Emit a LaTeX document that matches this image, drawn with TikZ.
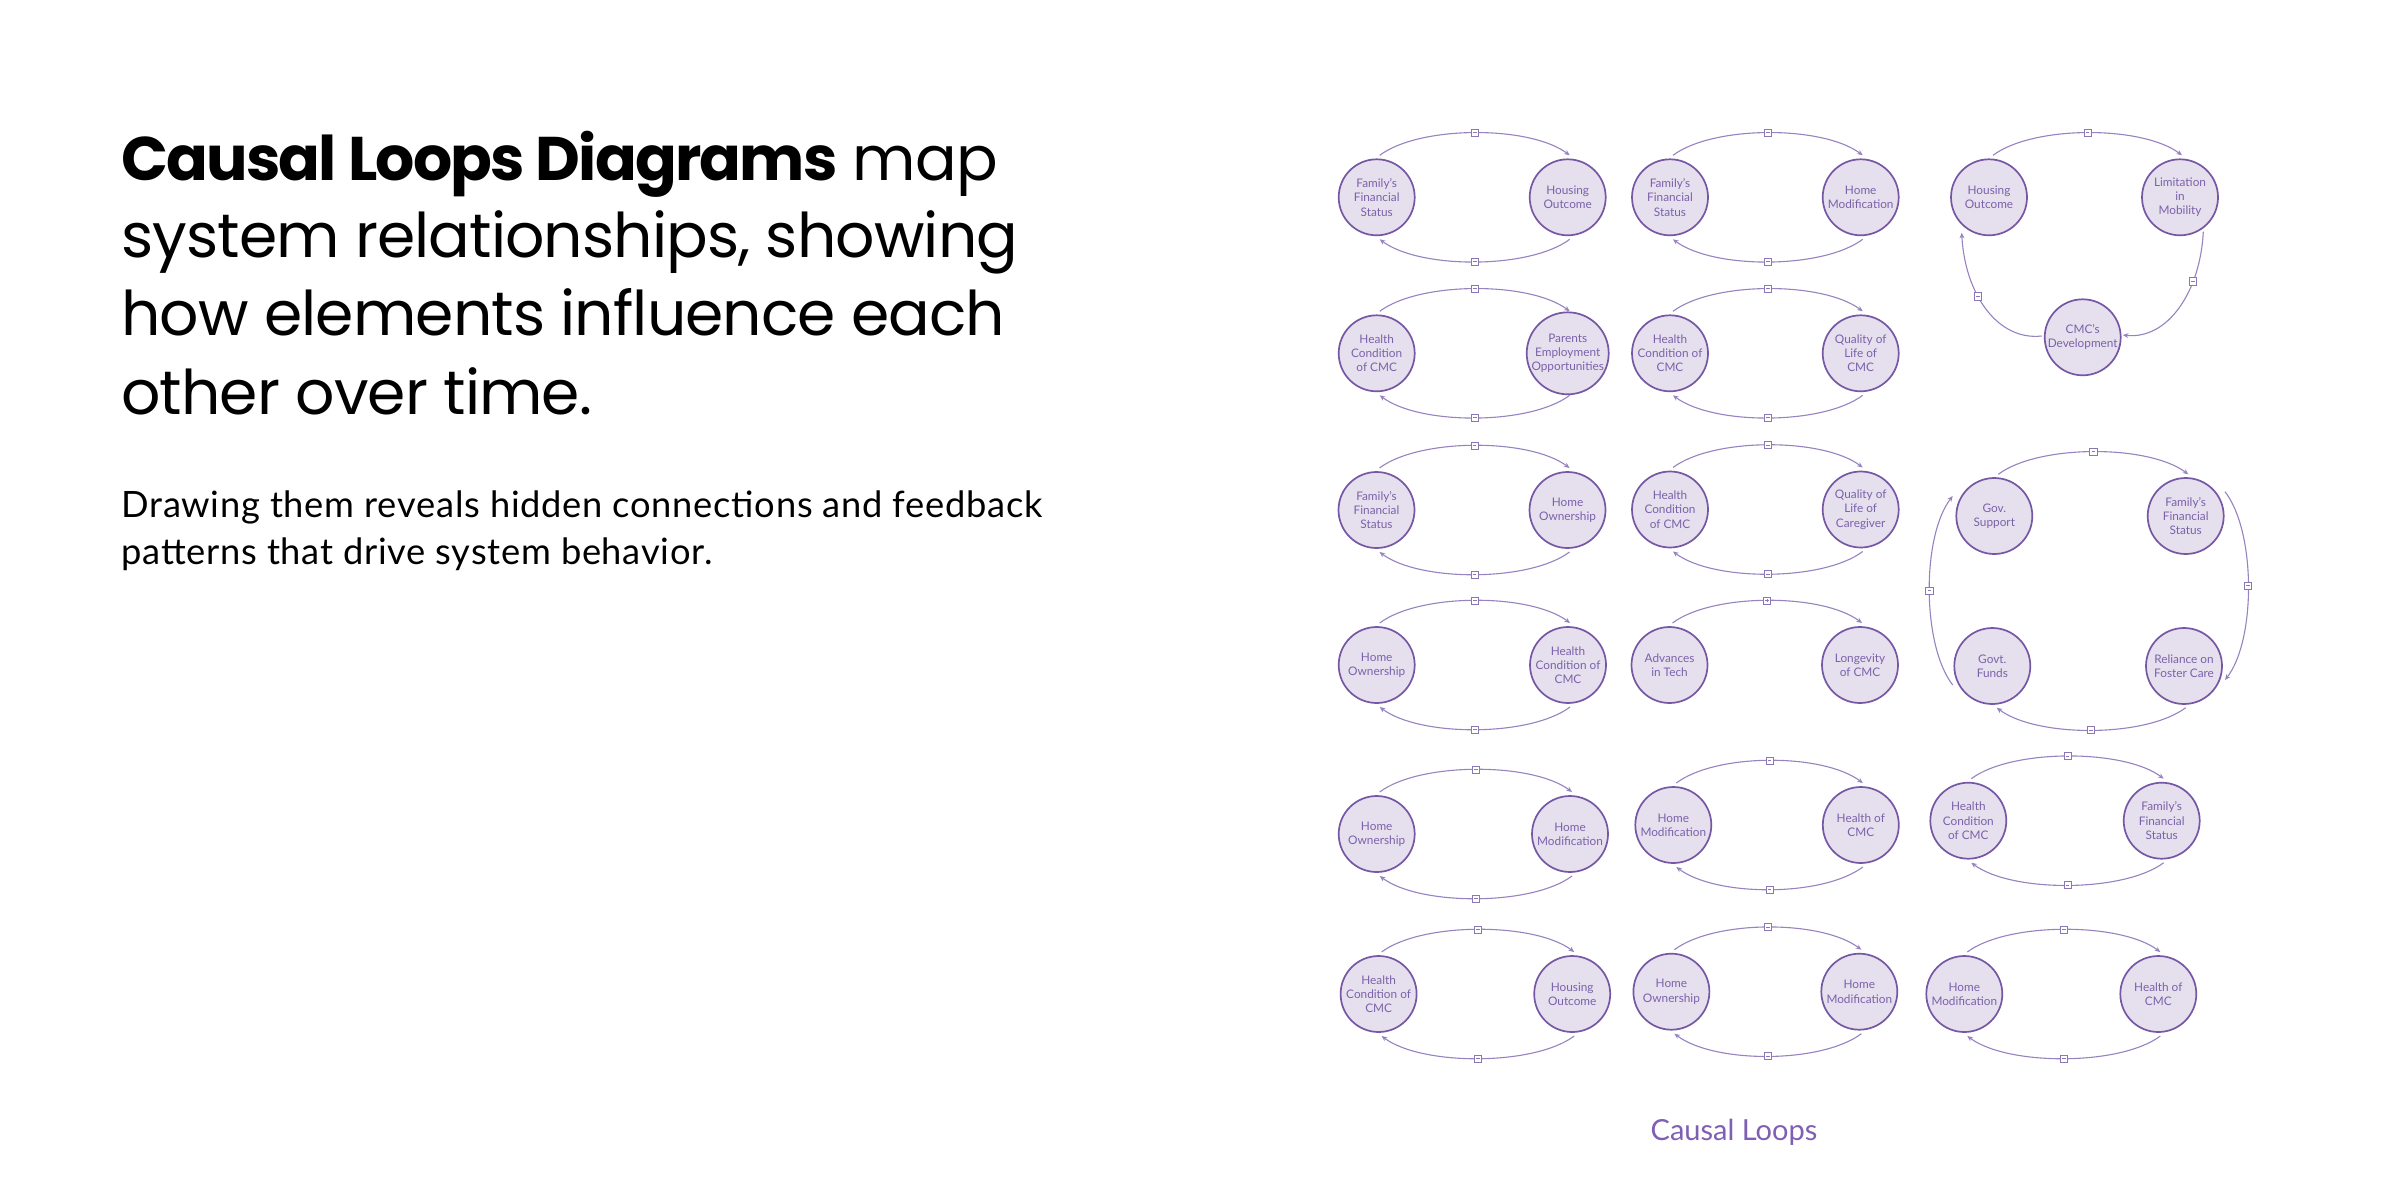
\documentclass[tikz,border=0pt]{standalone}
\usepackage{fontspec}
\setmainfont{Lato}
\newfontfamily\titlefont[LetterSpace=-1.5,BoldFeatures={LetterSpace=-3}]{Poppins}
\newfontfamily\bodyfont[LetterSpace=2]{Lato}
\usetikzlibrary{arrows.meta,calc}
\definecolor{cfill}{HTML}{E6DFEE}
\definecolor{cborder}{HTML}{7557A3}
\definecolor{ctext}{HTML}{7A62AA}
\definecolor{clink}{HTML}{9783C0}
\definecolor{cbox}{HTML}{8B76B8}
\definecolor{ccap}{HTML}{7F5FB3}
\newcommand{\minussign}{\makebox[0pt]{\rule{1.8pt}{0.4pt}}}
\newcommand{\plussign}{\makebox[0pt]{\rule{1.8pt}{0.4pt}}\makebox[0pt]{\rule[-0.7pt]{0.4pt}{1.8pt}}}
\tikzset{
  cnode/.style={circle, draw=cborder, fill=cfill, line width=0.85pt, minimum size=38pt,
    inner sep=0pt, align=center, text=ctext, font=\fontsize{5.9}{7.15}\selectfont},
  link/.style={draw=clink, line width=0.55pt, -{Stealth[length=2.8pt,width=2.4pt]}},
  sbox/.style={rectangle, draw=cbox, fill=white, line width=0.4pt, minimum size=3.6pt, inner sep=0pt,
    text=cbox},
  titletext/.style={anchor=base west, inner sep=0pt, font=\titlefont\fontsize{30.8}{36}\selectfont},
  bodytext/.style={anchor=base west, inner sep=0pt, font=\bodyfont\fontsize{18.15}{21}\selectfont},
}
% #1 prefix, #2 x left, #3 x right, #4 y, #5 left text, #6 right text
\newcommand{\twoloop}[6]{%
  \node[cnode] (#1a) at (#2,#4) {#5};
  \node[cnode] (#1b) at (#3,#4) {#6};
  \draw[link] ($(#1a.center)+(3,-42)$) .. controls +(40,-30) and +(-40,-30) .. node[sbox]{\minussign} ($(#1b.center)+(2,-42)$);
  \draw[link] ($(#1b.center)+(2,42)$) .. controls +(-40,30) and +(40,30) .. node[sbox]{\minussign} ($(#1a.center)+(3,42)$);
}
\begin{document}
\begin{tikzpicture}[x=0.5pt,y=-0.5pt]
\useasboundingbox (0,0) rectangle (2400,1200);
\fill[white] (0,0) rectangle (2400,1200);

% left text
\node[titletext] (t1) at (121,180) {\bfseries Causal Loops Diagrams\mdseries{} map};
\node[titletext] (t2) at (121,257.7) {system relationships, showing};
\node[titletext] (t3) at (121,335) {how elements influence each};
\node[titletext] (t4) at (121,414) {other over time.};
\node[bodytext] (b1) at (121,517.3) {Drawing them reveals hidden connections and feedback};
\node[bodytext] (b2) at (121,564) {patterns that drive system behavior.};

% row 1
\twoloop{ra}{1376.7}{1567.7}{197.3}{Family’s\\Financial\\Status}{Housing\\Outcome}
\twoloop{rb}{1670}{1860.7}{197.3}{Family’s\\Financial\\Status}{Home\\Modification}
% triangle loop
\node[cnode] (th) at (1989,197.3) {Housing\\Outcome};
\node[cnode] (tl) at (2180,197.3) {Limitation\\in\\Mobility};
\node[cnode] (td) at (2082.7,337.3) {CMC’s\\Development};
\draw[link] ($(th.center)+(4,-42)$) .. controls +(40,-30) and +(-40,-30) .. node[sbox]{\minussign} ($(tl.center)+(2,-42)$);
\draw[link] ($(tl.center)+(23.3,34.4)$) .. controls +(-3,60) and +(45,5) .. node[sbox,pos=0.3]{\minussign} ($(td.center)+(40,-2.3)$);
\draw[link] ($(td.center)+(-41,-1.3)$) .. controls +(-45,5) and +(3,60) .. node[sbox,pos=0.6]{\minussign} ($(th.center)+(-27.3,35.4)$);

% row 2
\twoloop{rc}{1376.7}{1567.7}{353.3}{Health\\Condition\\of CMC}{Parents\\Employment\\Opportunities}
\twoloop{rd}{1670}{1860.7}{353.3}{Health\\Condition of\\CMC}{Quality of\\Life of\\CMC}

% row 3
\twoloop{re}{1376.5}{1567.5}{510}{Family’s\\Financial\\Status}{Home\\Ownership}
\twoloop{rf}{1670}{1860.7}{509.5}{Health\\Condition\\of CMC}{Quality of\\Life of\\Caregiver}
% four-node loop
\node[cnode] (qg) at (1994.3,516) {Gov.\\Support};
\node[cnode] (qf) at (2185.7,516) {Family’s\\Financial\\Status};
\node[cnode] (qu) at (1992.3,666) {Govt.\\Funds};
\node[cnode] (qr) at (2184,666) {Reliance on\\Foster Care};
\draw[link] ($(qg.center)+(4,-41.7)$) .. controls +(40,-30) and +(-40,-30) .. node[sbox]{\minussign} ($(qf.center)+(2.6,-41.7)$);
\draw[link] ($(qf.center)+(39.3,-24.3)$) .. controls +(31,40) and +(31,-40) .. node[sbox]{\minussign} ($(qr.center)+(41,14)$);
\draw[link] ($(qr.center)+(1.7,41.7)$) .. controls +(-40,30) and +(40,30) .. node[sbox]{\minussign} ($(qu.center)+(4.4,41.7)$);
\draw[link] ($(qu.center)+(-39.6,19)$) .. controls +(-31,-40) and +(-31,40) .. node[sbox]{\minussign} ($(qg.center)+(-41.6,-20)$);

% row 4
\twoloop{rg}{1376.7}{1568}{665}{Home\\Ownership}{Health\\Condition of\\CMC}
\node[cnode] (ta) at (1669.5,665) {Advances\\in Tech};
\node[cnode] (tg) at (1860,665) {Longevity\\of CMC};
\draw[link] ($(ta.center)+(3,-42)$) .. controls +(40,-30) and +(-40,-30) .. node[sbox]{\plussign} ($(tg.center)+(2,-42)$);

% row 5
\twoloop{rh}{1376.7}{1570}{834}{Home\\Ownership}{Home\\Modification}
\twoloop{ri}{1673.3}{1860.8}{825}{Home\\Modification}{Health of\\CMC}
\twoloop{rj}{1968.3}{2161.7}{820.7}{Health\\Condition\\of CMC}{Family’s\\Financial\\Status}

% row 6
\twoloop{rk}{1378.6}{1572.2}{994}{Health\\Condition of\\CMC}{Housing\\Outcome}
\twoloop{rl}{1671.4}{1859.3}{991.7}{Home\\Ownership}{Home\\Modification}
\twoloop{rm}{1964.3}{2158.3}{994}{Home\\Modification}{Health of\\CMC}

% caption
\node[text=ccap, font=\fontsize{14.5}{17}\selectfont, inner sep=0pt] (cap) at (1734,1132.6) {Causal Loops};
\end{tikzpicture}
\end{document}
